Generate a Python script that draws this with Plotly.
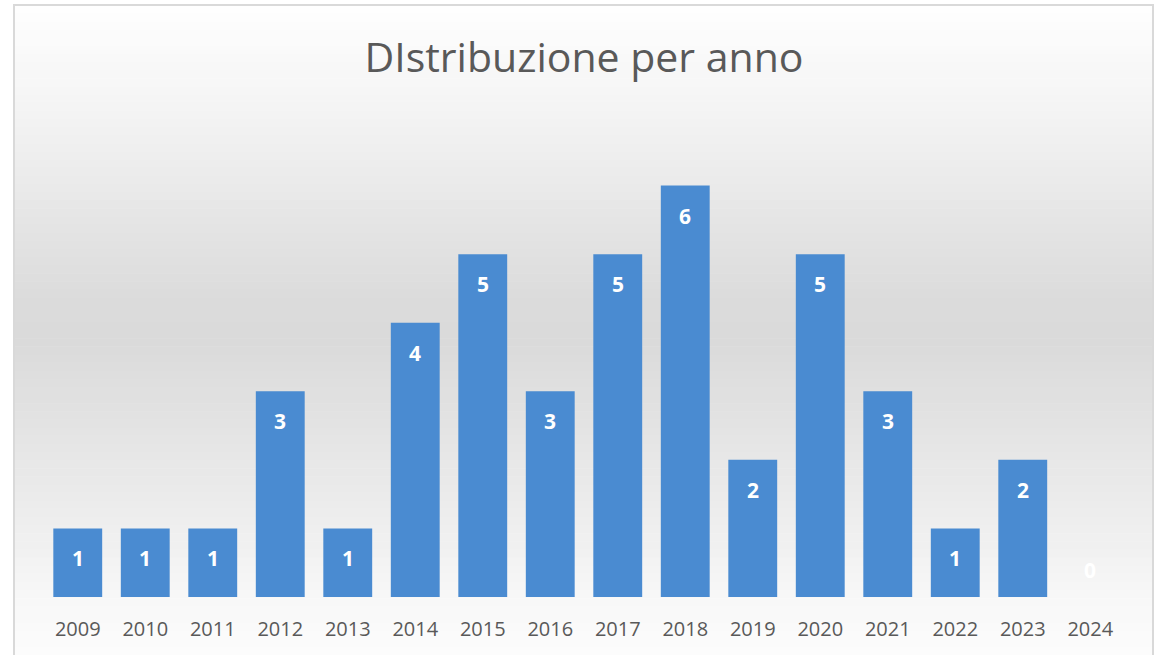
import plotly.graph_objects as go
import numpy as np

years = ["2009", "2010", "2011", "2012", "2013", "2014", "2015", "2016",
         "2017", "2018", "2019", "2020", "2021", "2022", "2023", "2024"]
counts = [1, 1, 1, 3, 1, 4, 5, 3, 5, 6, 2, 5, 3, 1, 2, 0]
title_text = "DIstribuzione per anno"

W, H = 1165, 655
ML, MR, MT, MB = 44, 41, 117, 58
PW = W - ML - MR
PH = H - MT - MB


def px_to_paper_x(px):
    return (px - ML) / PW


def py_to_paper_y(py):
    return (H - MB - py) / PH


# background gradient stops (pixel y, gray level)
stops_y = [5, 100, 200, 300, 340, 450, 550, 600, 655]
stops_v = [254, 245, 232, 219, 218, 230, 241, 248, 252]

shapes = []
n = 80
edges = np.linspace(5, 655, n + 1)
for i in range(n):
    y0, y1 = edges[i], edges[i + 1]
    v = int(round(np.interp((y0 + y1) / 2, stops_y, stops_v)))
    shapes.append(dict(type="rect", xref="paper", yref="paper", layer="below",
                       x0=px_to_paper_x(15), x1=px_to_paper_x(1152),
                       y0=py_to_paper_y(y1 + 0.5), y1=py_to_paper_y(y0),
                       line=dict(width=0), fillcolor=f"rgb({v},{v},{v})"))
# chart frame
shapes.append(dict(type="rect", xref="paper", yref="paper", layer="above",
                   x0=px_to_paper_x(14), x1=px_to_paper_x(1153),
                   y0=py_to_paper_y(700), y1=py_to_paper_y(5),
                   line=dict(width=2, color="#d9d9d9"), fillcolor="rgba(0,0,0,0)"))

fig = go.Figure()
fig.add_trace(go.Bar(x=years, y=counts, marker=dict(color="#4a8bd1", line=dict(width=0)),
                     hoverinfo="x+y"))

annotations = []
for i, c in enumerate(counts):
    annotations.append(dict(x=i, y=c, xref="x", yref="y", text=f"<b>{c}</b>",
                            showarrow=False, yshift=-30 if c > 0 else 27,
                            font=dict(family="Open Sans", size=21, color="white")))

fig.update_layout(
    width=W, height=H,
    margin=dict(l=ML, r=MR, t=MT, b=MB),
    paper_bgcolor="white",
    plot_bgcolor="rgba(0,0,0,0)",
    title=dict(text=title_text, x=0.5, xanchor="center", xref="paper",
               y=1 - 58 / H, yanchor="middle", yref="container",
               font=dict(family="Open Sans", size=41, color="#595959")),
    bargap=0.276,
    showlegend=False,
    shapes=shapes,
    annotations=annotations,
    xaxis=dict(type="category", range=[-0.5, len(years) - 0.5],
               showgrid=False, showline=False, zeroline=False,
               tickfont=dict(family="Open Sans", size=20, color="#595959"),
               ticks="", ticklabelstandoff=18),
    yaxis=dict(range=[0, 7], visible=False, showgrid=False, zeroline=False),
)

fig.write_html("out.html")
